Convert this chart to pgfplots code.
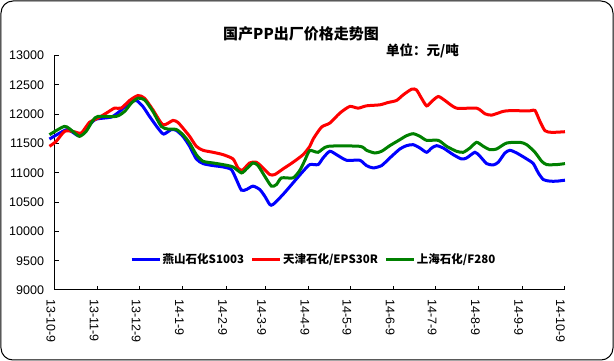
\documentclass[border=0pt]{standalone}
\usepackage{fontspec}
\setmainfont{Liberation Sans}
\newfontfamily\cjk{Noto Sans CJK SC}
\usepackage{pgfplots}
\pgfplotsset{compat=1.18}
\definecolor{xblue}{RGB}{0,0,255}
\definecolor{xred}{RGB}{255,0,0}
\definecolor{xgreen}{RGB}{0,128,0}
\begin{document}
\begin{tikzpicture}
\useasboundingbox (-54.5pt,-71pt) rectangle (559.5pt,290pt);
\draw[line width=1pt, rounded corners=12pt] (-53.5pt,-70pt) rectangle (558.5pt,289pt);
\begin{axis}[
  at={(0pt,0pt)}, anchor=south west,
  scale only axis, width=509.5pt, height=234.4pt,
  xmin=0, xmax=365, ymin=9000, ymax=13000,
  clip=false,
  scaled ticks=false,
  axis lines*=left,
  axis line style={line width=1pt},
  tick style={line width=1pt, black},
  tick align=inside, major tick length=4pt,
  xtick pos=bottom, ytick pos=left,
  ytick={9000,9500,10000,10500,11000,11500,12000,12500,13000},
  yticklabels={9000,9500,10000,10500,11000,11500,12000,12500,13000},
  xtick={0,31,61,92,123,151,182,212,243,273,304,335,365},
  xticklabels={13-10-9,13-11-9,13-12-9,14-1-9,14-2-9,14-3-9,14-4-9,14-5-9,14-6-9,14-7-9,14-8-9,14-9-9,14-10-9},
  ticklabel style={font=\fontsize{12.5}{14}\selectfont},
  yticklabel style={xshift=-7pt},
  xticklabel style={xshift=-3.5pt, yshift=-6pt, rotate=-90, anchor=west},
  legend columns=3,
  legend style={draw=none, fill=none, at={(0.1423,0.129)}, anchor=west,
    font=\cjk\bfseries\fontsize{11.5}{13}\selectfont,
    nodes={inner sep=1.5pt},
    /tikz/every even column/.append style={column sep=5pt}},
  legend image code/.code={\draw[#1] (0pt,0pt) -- (28pt,0pt);},
  every axis plot/.append style={line width=3pt, smooth, tension=0.4},
]
\addplot[xblue] coordinates {
(-3.6,11576) (8.4,11735) (13.1,11690) (17.9,11633) (25,11820) (29.9,11916)
(40.6,11950) (46.6,12047) (53.8,12200) (58.6,12234) (63.3,12132) (68.1,11962)
(74.1,11763) (78.2,11661) (83.7,11738) (87.2,11724) (92,11622) (96.8,11452)
(101.6,11236) (106.4,11157) (113.5,11123) (120.7,11100) (126.7,11055) (130.3,10885)
(133.9,10704) (137.5,10715) (142.2,10772) (147,10715) (150.6,10602) (154.2,10460)
(156.6,10460) (163.7,10630) (170.9,10828) (178.1,11027) (182.9,11140) (188.8,11140)
(192.4,11253) (197.2,11367) (202,11310) (209.2,11214) (218.7,11214) (223.5,11123)
(228.3,11083) (234.3,11123) (240.2,11253) (247.4,11406) (252.2,11463) (257,11480)
(261.8,11423) (266.6,11350) (270.2,11423) (273.7,11463) (278.5,11423) (285.6,11310)
(291.6,11236) (295.2,11253) (301.2,11350) (304.8,11282) (309.6,11157) (314.3,11134)
(317.9,11180) (322.7,11338) (326.3,11384) (331.1,11338) (338.3,11236) (343,11157)
(346.6,10998) (350.2,10885) (355,10857) (359.8,10857) (365.7,10874)
};
\addlegendentry{燕山石化S1003}
\addplot[xred] coordinates {
(-3.6,11452) (1.2,11537) (7.2,11707) (13.1,11707) (19.1,11678) (25,11860)
(31.1,11933) (37.1,12018) (43,12103) (47.8,12103) (53.8,12234) (59.8,12319)
(64.5,12273) (70.5,12075) (77.7,11820) (84.9,11894) (88.4,11860) (92,11763)
(96.8,11622) (101.6,11452) (106.4,11384) (113.5,11350) (120.7,11310) (127.9,11236)
(131.4,11083) (134.6,11044) (139.8,11168) (144.6,11180) (149.4,11083) (154.2,10970)
(157.8,10970) (163.7,11066) (170.9,11180) (178.1,11310) (182.9,11452) (185.3,11576)
(191.3,11780) (197.2,11848) (204.4,12018) (211.5,12132) (217.5,12103) (223.5,12143)
(233.1,12160) (239,12200) (245,12234) (249.8,12330) (255.8,12426) (259.3,12415)
(262.9,12273) (266.6,12143) (270.2,12217) (274.9,12302) (279.7,12234) (288,12103)
(302.4,12103) (308.4,12007) (313.1,11984) (319.1,12030) (323.9,12058) (340.6,12058)
(344.2,12064) (347.8,11877) (351.4,11718) (356.2,11690) (365.7,11701)
};
\addlegendentry{天津石化/EPS30R}
\addplot[xgreen] coordinates {
(-3.6,11650) (7.2,11792) (13.1,11707) (17.9,11622) (22.7,11707) (27.5,11894)
(31.1,11962) (44.2,11962) (50.2,12047) (55,12188) (59.8,12273) (64.5,12245)
(70.5,12047) (76.5,11792) (81.3,11746) (87.2,11740) (92,11650) (96.8,11508)
(101.6,11310) (106.4,11197) (113.5,11168) (120.7,11140) (127.9,11100) (133.9,10998)
(137.5,11066) (142.2,11168) (145.8,11123) (150.6,10942) (155.4,10772) (159,10800)
(162.6,10913) (170.9,10913) (175.7,11040) (179.3,11210) (182.9,11380) (188.8,11350)
(196,11452) (218.7,11452) (223.5,11384) (229.5,11338) (234.3,11367) (240.2,11463)
(247.4,11565) (252.2,11633) (257,11667) (261.8,11622) (266.6,11554) (274.9,11554)
(280.9,11452) (288,11367) (292.8,11350) (297.6,11423) (302.4,11520) (307.2,11452)
(311.9,11395) (316.7,11406) (323.9,11508) (333.5,11520) (338.3,11480) (344.2,11350)
(349,11197) (352.6,11140) (359.8,11140) (365.7,11157)
};
\addlegendentry{上海石化/F280}
\end{axis}
\node[font=\cjk\bfseries\fontsize{15}{17}\selectfont, inner sep=0pt] at (246.5pt,256.5pt) {国产PP出厂价格走势图};
\node[font=\cjk\bfseries\fontsize{13.5}{15}\selectfont, inner sep=0pt, anchor=west] at (331.5pt,239pt) {单位：元/吨};
\end{tikzpicture}
\end{document}
